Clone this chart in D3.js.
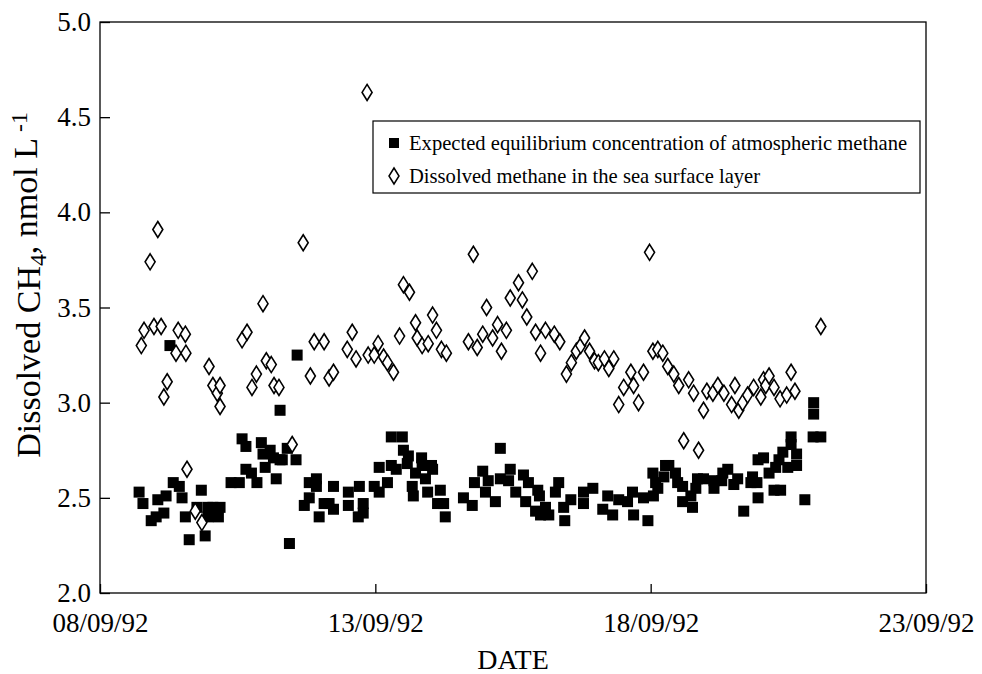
<!DOCTYPE html>
<html>
<head>
<meta charset="utf-8">
<script src="https://cdn.jsdelivr.net/npm/d3@7"></script>
<style>
  html, body { margin: 0; padding: 0; background: #fff; }
  svg { display: block; }
  text { font-family: "Liberation Serif", "Times New Roman", serif; fill: #000; }
</style>
</head>
<body>
<svg id="chart" width="982" height="674"></svg>
<script>
// ---- Data (x = days after 08/09/92 00:00, y = nmol L-1) ----
const seriesNames = [
  "Expected equilibrium concentration of atmospheric methane",
  "Dissolved methane in the sea surface layer"
];
const dateTicks = ["08/09/92", "13/09/92", "18/09/92", "23/09/92"];
const valueTicks = [2.0, 2.5, 3.0, 3.5, 4.0, 4.5, 5.0];

const eqDays = [0.71,0.78,0.93,1.02,1.05,1.16,1.20,1.27,1.33,1.44,1.49,1.55,1.62,1.76,1.84,1.91,1.96,2.05,2.18,1.96,2.15,
  2.38,2.53,2.58,2.65,2.65,2.75,2.85,2.93,2.96,3.00,3.09,3.15,3.20,3.27,3.27,3.40,3.31,3.56,3.44,3.58,
  3.80,3.93,3.93,3.80,3.71,3.98,4.07,4.16,4.24,4.24,4.51,4.71,4.51,4.78,4.69,4.78,4.98,5.07,5.22,5.07,5.29,5.38,5.29,5.49,5.51,5.60,5.58,
  5.84,5.85,6.02,6.04,5.73,5.91,5.67,5.69,5.95,6.18,6.13,6.24,6.27,6.60,6.76,6.80,6.95,7.05,7.00,7.18,7.27,7.27,7.45,7.42,7.55,7.69,7.73,
  7.78,7.95,7.98,7.91,8.00,8.15,8.09,8.33,8.27,8.44,8.42,8.55,8.78,8.95,8.78,9.13,9.22,9.31,9.42,9.58,9.67,9.69,9.87,10.04,9.95,10.13,
  10.05,10.09,10.27,10.24,10.33,10.45,10.49,10.58,10.58,10.73,10.76,10.82,10.85,10.96,11.15,11.15,11.29,11.31,11.40,11.51,11.58,11.69,
  11.82,11.85,11.93,11.95,11.95,12.05,12.15,12.24,12.36,12.27,12.33,12.40,12.49,12.55,12.55,12.65,12.65,12.80,12.95,13.09,12.96,12.96];
const eqValues = [2.53,2.47,2.38,2.40,2.49,2.42,2.51,3.30,2.58,2.56,2.50,2.40,2.28,2.45,2.54,2.30,2.45,2.45,2.45,2.40,2.40,
  2.58,2.58,2.81,2.77,2.65,2.63,2.58,2.79,2.73,2.66,2.75,2.71,2.60,2.70,2.96,2.76,2.70,2.70,2.26,3.25,
  2.58,2.60,2.56,2.50,2.46,2.40,2.47,2.47,2.44,2.56,2.53,2.56,2.46,2.47,2.40,2.42,2.56,2.53,2.58,2.66,2.67,2.65,2.82,2.82,2.75,2.72,2.68,
  2.71,2.67,2.67,2.65,2.63,2.60,2.56,2.51,2.53,2.54,2.47,2.47,2.40,2.50,2.46,2.58,2.64,2.59,2.53,2.48,2.76,2.60,2.65,2.59,2.53,2.62,2.48,
  2.58,2.54,2.51,2.43,2.41,2.41,2.45,2.58,2.53,2.38,2.45,2.49,2.53,2.55,2.47,2.44,2.51,2.41,2.49,2.48,2.53,2.41,2.50,2.63,2.38,2.55,
  2.51,2.58,2.67,2.61,2.67,2.63,2.58,2.56,2.48,2.51,2.45,2.55,2.60,2.60,2.59,2.55,2.59,2.63,2.65,2.57,2.60,2.43,
  2.58,2.61,2.58,2.50,2.70,2.71,2.63,2.54,2.54,2.66,2.70,2.74,2.66,2.82,2.78,2.73,2.67,2.49,2.82,2.82,3.00,2.94];

const dsDays = [0.75,0.80,0.91,0.98,1.05,1.11,1.16,1.22,1.38,1.42,1.55,1.56,1.58,1.73,1.85,1.98,2.05,2.13,2.18,2.18,
  2.58,2.67,2.76,2.84,2.96,3.02,3.11,3.16,3.25,3.49,3.69,3.82,3.89,4.07,4.16,4.24,4.49,4.58,4.65,4.85,
  4.87,4.98,5.05,5.15,5.22,5.33,5.44,5.51,5.62,5.73,5.76,5.85,5.96,6.04,6.11,6.20,6.29,6.69,6.78,6.85,
  6.95,7.02,7.13,7.22,7.29,7.38,7.45,7.60,7.67,7.75,7.85,7.91,8.00,8.09,8.25,8.35,8.47,8.56,8.65,8.73,
  8.80,8.89,8.98,9.05,9.16,9.24,9.33,9.42,9.51,9.64,9.69,9.78,9.87,9.98,10.04,10.13,10.22,10.31,10.42,10.51,
  10.60,10.69,10.78,10.87,10.96,11.02,11.13,11.22,11.33,11.47,11.53,11.60,11.67,11.76,11.87,12.00,12.05,12.09,12.15,12.24,
  12.35,12.47,12.55,12.62,13.09];
const dsValues = [3.30,3.38,3.74,3.40,3.91,3.40,3.03,3.11,3.26,3.38,3.36,3.26,2.65,2.43,2.37,3.19,3.09,3.05,3.09,2.98,
  3.33,3.37,3.08,3.15,3.52,3.22,3.20,3.09,3.08,2.78,3.84,3.14,3.32,3.32,3.13,3.16,3.28,3.37,3.23,4.63,
  3.25,3.25,3.31,3.24,3.21,3.16,3.35,3.62,3.58,3.42,3.34,3.30,3.31,3.46,3.38,3.28,3.26,3.32,3.78,3.29,
  3.36,3.50,3.34,3.41,3.27,3.38,3.55,3.63,3.54,3.45,3.69,3.37,3.26,3.38,3.36,3.32,3.15,3.21,3.27,3.30,
  3.34,3.27,3.22,3.21,3.23,3.18,3.23,2.99,3.08,3.16,3.09,3.00,3.16,3.79,3.27,3.28,3.26,3.19,3.15,3.09,
  2.80,3.12,3.05,2.75,2.96,3.06,3.05,3.09,3.05,2.99,3.09,2.96,3.00,3.04,3.08,3.03,3.12,3.09,3.14,3.08,
  3.02,3.04,3.16,3.06,3.40];

// ---- Layout ----
const W = 982, H = 674;
const margin = { top: 22, right: 56, bottom: 81, left: 100 };
const iw = W - margin.left - margin.right;
const ih = H - margin.top - margin.bottom;
const TICK_FONT = 27;

const parseTick = d3.timeParse("%d/%m/%y");
const fmtTick = d3.timeFormat("%d/%m/%y");
const start = parseTick(dateTicks[0]);
const toDate = d => new Date(start.getTime() + d * 864e5);

const svg = d3.select("#chart");
const g = svg.append("g").attr("transform", `translate(${margin.left},${margin.top})`);

const x = d3.scaleTime()
  .domain([start, parseTick(dateTicks[dateTicks.length - 1])])
  .range([0, iw]);
const y = d3.scaleLinear().domain([2, 5]).range([ih, 0]);

// frame
g.append("rect").attr("x", 0).attr("y", 0).attr("width", iw).attr("height", ih)
  .attr("fill", "none").attr("stroke", "#000").attr("stroke-width", 1.3);

// axes
const xAxis = d3.axisBottom(x)
  .tickValues(dateTicks.map(parseTick))
  .tickFormat(fmtTick)
  .tickSizeInner(-9).tickSizeOuter(0).tickPadding(20);
const yAxis = d3.axisLeft(y)
  .tickValues(valueTicks)
  .tickFormat(d3.format(".1f"))
  .tickSizeInner(-10).tickSizeOuter(0).tickPadding(9);

const gx = g.append("g").attr("transform", `translate(0,${ih})`).call(xAxis);
const gy = g.append("g").call(yAxis);
[gx, gy].forEach(a => {
  a.select(".domain").remove();
  a.selectAll(".tick line").attr("stroke", "#000").attr("stroke-width", 1.3);
  a.selectAll(".tick text").style("font-size", TICK_FONT + "px")
    .style("font-family", '"Liberation Serif", "Times New Roman", serif');
});

// axis titles
svg.append("text")
  .attr("x", margin.left + iw / 2).attr("y", 669)
  .attr("text-anchor", "middle").style("font-size", "28px").text("DATE");

const yl = svg.append("text")
  .attr("transform", `translate(40,${margin.top + 263}) rotate(-90)`)
  .attr("text-anchor", "middle").style("font-size", "34px");
yl.append("tspan").text("Dissolved CH");
yl.append("tspan").attr("dy", "0.25em").style("font-size", "70%").text("4");
yl.append("tspan").attr("dy", "-0.25em").text(", nmol L");
yl.append("tspan").attr("dy", "-0.45em").style("font-size", "70%").text(" -1");

// markers
const SQ = 11;
const diamondPath = (cx, cy) => `M${cx},${cy - 8}L${cx + 5},${cy}L${cx},${cy + 8}L${cx - 5},${cy}Z`;

const eqData = eqDays.map((d, i) => ({ t: toDate(d), v: eqValues[i] }));
const dsData = dsDays.map((d, i) => ({ t: toDate(d), v: dsValues[i] }));

g.append("g").selectAll("rect").data(eqData).join("rect")
  .attr("x", d => x(d.t) - SQ / 2).attr("y", d => y(d.v) - SQ / 2)
  .attr("width", SQ).attr("height", SQ).attr("fill", "#000");

g.append("g").selectAll("path").data(dsData).join("path")
  .attr("d", d => diamondPath(x(d.t), y(d.v)))
  .attr("fill", "#fff").attr("stroke", "#000").attr("stroke-width", 1.6);

// legend
const lg = svg.append("g");
lg.append("rect").attr("x", 373).attr("y", 121).attr("width", 547).attr("height", 72)
  .attr("fill", "#fff").attr("stroke", "#000").attr("stroke-width", 1.2);
lg.append("rect").attr("x", 389).attr("y", 138).attr("width", 10).attr("height", 10).attr("fill", "#000");
lg.append("path").attr("d", diamondPath(394, 176)).attr("fill", "#fff").attr("stroke", "#000").attr("stroke-width", 1.5);
lg.append("text").attr("x", 409).attr("y", 150).style("font-size", "20.6px").text(seriesNames[0]);
lg.append("text").attr("x", 409).attr("y", 183).style("font-size", "20.6px").text(seriesNames[1]);
</script>
</body>
</html>
